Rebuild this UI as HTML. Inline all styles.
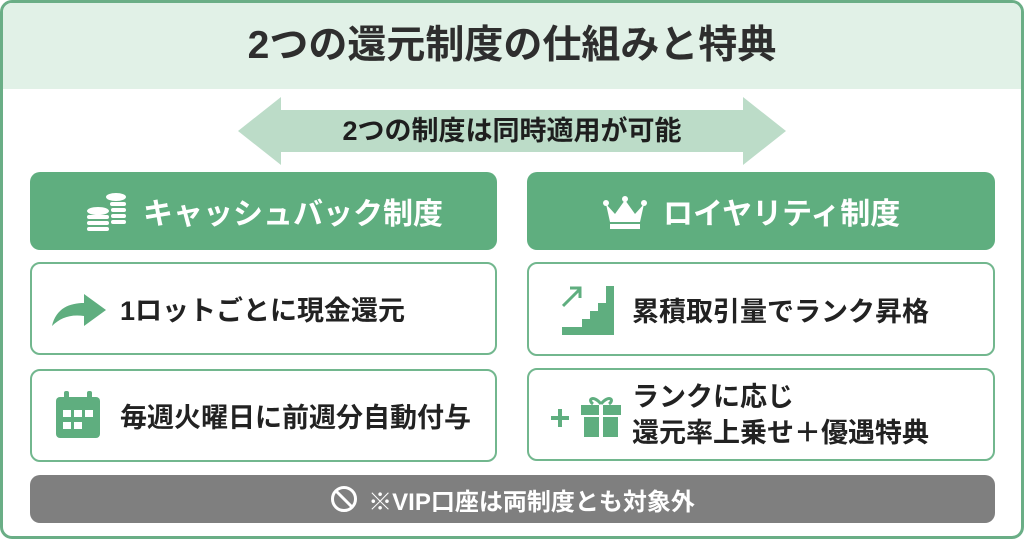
<!DOCTYPE html>
<html><head><meta charset="utf-8"><style>
*{margin:0;padding:0;box-sizing:border-box}
body{width:1024px;height:541px;background:#fff;font-family:"Liberation Sans","Noto Sans CJK JP",sans-serif;font-weight:bold;position:relative;overflow:hidden}
.frame{position:absolute;left:0;top:0;width:1024px;height:539px;border:3px solid #6aae86;border-radius:12px;overflow:hidden}
.hdr{position:absolute;left:0;top:0;width:100%;height:86px;background:#e1f1e7;text-align:center;font-size:39px;line-height:86px;color:#2e2e2e;letter-spacing:0px}
.box{position:absolute}
.gh{background:#5fae7f;border-radius:10px;color:#fff;font-size:30px;display:flex;align-items:center}
.it{border:2.5px solid #72b78e;border-radius:10px;color:#222;font-size:27px;display:flex;align-items:center}
.foot{background:#7f7f7f;border-radius:10px;color:#fff;font-size:24px;display:flex;align-items:center;justify-content:center}
</style></head><body>
<div class="frame">
<div class="hdr">2つの還元制度の仕組みと特典</div>
</div>
<svg class="box" style="left:0;top:0" width="1024" height="541">
<polygon points="238,131 281,97 281,110 743,110 743,97 786,131 743,165 743,152 281,152 281,165" fill="#bcdcc8"/>
</svg>
<div class="box" style="left:0;top:111px;width:1024px;text-align:center;font-size:27px;color:#1e1e1e;line-height:40px">2つの制度は同時適用が可能</div>

<div class="box gh" style="left:30px;top:172px;width:467px;height:78px">
<svg style="position:absolute;left:54px;top:19px" width="44" height="42"><g fill="#fff"><ellipse cx="14" cy="20" rx="11" ry="4"/><rect x="3" y="24" width="22" height="4" rx="2"/><rect x="3" y="30" width="22" height="4" rx="2"/><rect x="3" y="36" width="22" height="4" rx="2"/><ellipse cx="32" cy="6" rx="10" ry="4"/><rect x="26" y="11" width="16" height="4" rx="2"/><rect x="27" y="17" width="15" height="4" rx="2"/><rect x="27" y="23" width="15" height="4" rx="2"/><rect x="27" y="29" width="15" height="4" rx="2"/></g></svg>
<span style="position:absolute;left:113px">キャッシュバック制度</span></div>
<div class="box gh" style="left:527px;top:172px;width:468px;height:78px">
<svg style="position:absolute;left:76px;top:24px" width="44" height="34"><path d="M3,8 L12,18 L22,4 L32,18 L41,8 L37,26 L7,26Z" fill="#fff"/><rect x="7" y="28" width="30" height="5" fill="#fff"/><circle cx="3" cy="7" r="3" fill="#fff"/><circle cx="22" cy="3" r="3" fill="#fff"/><circle cx="41" cy="7" r="3" fill="#fff"/></svg>
<span style="position:absolute;left:136px">ロイヤリティ制度</span></div>

<div class="box it" style="left:30px;top:262px;width:467px;height:93px;padding-left:88px">
<svg style="position:absolute;left:18px;top:28px" width="58" height="36"><path d="M2,34 C6,16 20,11 34,11 L34,2 L56,18 L34,34 L34,24 C20,22 10,26 2,34Z" fill="#5fae7f"/></svg>1ロットごとに現金還元</div>
<div class="box it" style="left:30px;top:369px;width:467px;height:93px;padding-left:88px">
<svg style="position:absolute;left:22px;top:19px" width="48" height="50"><rect x="2" y="7" width="44" height="41" rx="4" fill="#5fae7f"/><rect x="10" y="1" width="5" height="11" rx="2" fill="#5fae7f"/><rect x="33" y="1" width="5" height="11" rx="2" fill="#5fae7f"/><g fill="#fff"><rect x="9" y="20" width="8" height="7"/><rect x="20" y="20" width="8" height="7"/><rect x="31" y="20" width="8" height="7"/><rect x="9" y="32" width="8" height="7"/><rect x="20" y="32" width="8" height="7"/></g></svg>毎週火曜日に前週分自動付与</div>

<div class="box it" style="left:527px;top:262px;width:468px;height:94px;padding-left:103px">
<svg style="position:absolute;left:33px;top:19px" width="56" height="56"><path d="M0,52 L52,52 L52,3 L44,3 L44,20 L36,20 L36,28 L28,28 L28,36 L20,36 L20,44 L0,44Z" fill="#5fae7f"/><path d="M1,23 L18,6 M8,5 L18,5 L18,15" stroke="#5fae7f" stroke-width="3" fill="none"/></svg>累積取引量でランク昇格</div>
<div class="box it" style="left:527px;top:368px;width:468px;height:93px;padding-left:103px;line-height:36px">
<svg style="position:absolute;left:20px;top:24px" width="74" height="44"><path d="M2,24 L20,24 M11,15 L11,33" stroke="#5fae7f" stroke-width="4"/><rect x="32" y="11" width="40" height="10" fill="#5fae7f"/><rect x="35" y="23" width="34" height="20" fill="#5fae7f"/><rect x="50" y="11" width="4" height="32" fill="#fff"/><path d="M52,10 C44,0 38,6 44,10 M52,10 C60,0 66,6 60,10" stroke="#5fae7f" stroke-width="3" fill="none"/></svg><div>ランクに応じ<br>還元率上乗せ＋優遇特典</div></div>

<div class="box foot" style="left:30px;top:475px;width:965px;height:48px">
<svg width="28" height="28" style="margin-right:10px"><circle cx="14" cy="14" r="11.5" stroke="#fff" stroke-width="3" fill="none"/><path d="M6,6 L22,22" stroke="#fff" stroke-width="3"/></svg>※VIP口座は両制度とも対象外</div>
</body></html>
